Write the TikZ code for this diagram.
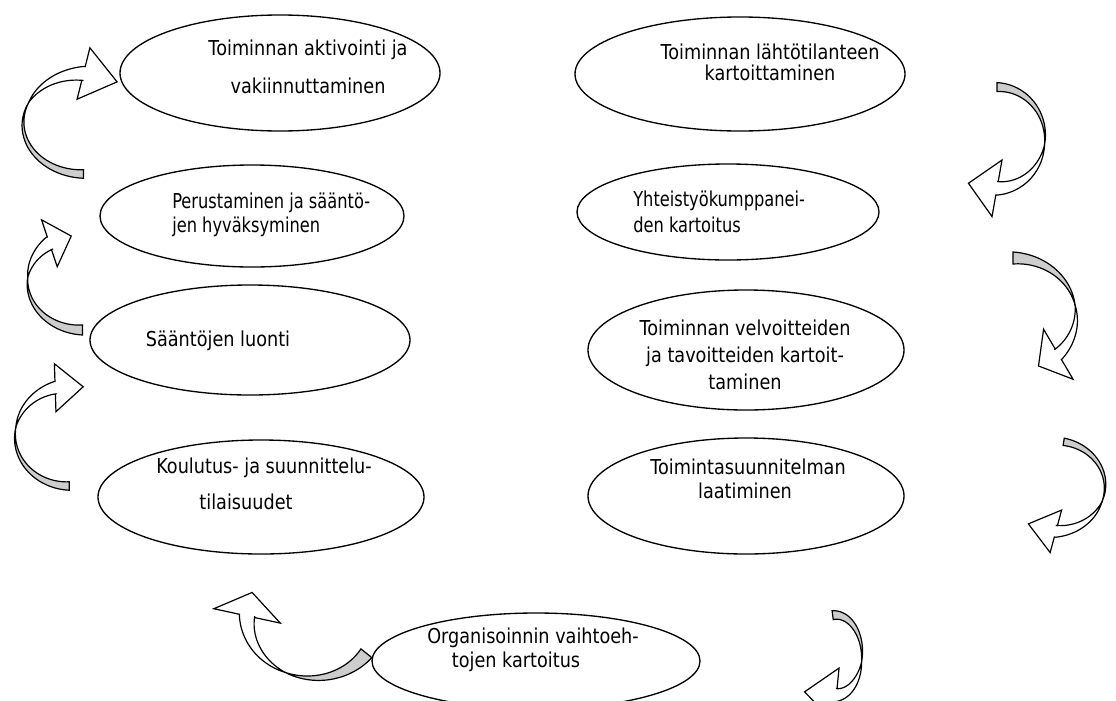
\documentclass[tikz,border=0pt]{standalone}
\usepackage{fontspec}
\usepackage{graphicx}
\setmainfont{DejaVu Sans}[FakeStretch=0.86]
\usetikzlibrary{shapes.geometric}
\definecolor{bandgray}{RGB}{205,205,205}
\pgfkeys{/ca/.is family,
 /ca/rx/.store in=\CArx, /ca/ry/.store in=\CAry,
 /ca/tt/.store in=\CAtt, /ca/tc/.store in=\CAtc, /ca/th/.store in=\CAth,
 /ca/g/.store in=\CAg, /ca/k/.store in=\CAk,
 /ca/hw/.store in=\CAhw, /ca/hl/.store in=\CAhl, /ca/tau/.store in=\CAtau}
\newcommand\curvedarrow[2]{%
 \begin{scope}[shift={(#1)}]
 \pgfkeys{/ca/.cd,#2}%
 \pgfmathsetmacro\CAmx{\CArx*cos(\CAth)}%
 \pgfmathsetmacro\CAmy{\CAry*sin(\CAth)}%
 \pgfmathsetmacro\CAtx{-\CArx*sin(\CAth)}%
 \pgfmathsetmacro\CAty{\CAry*cos(\CAth)}%
 \pgfmathsetmacro\CAtn{veclen(\CAtx,\CAty)}%
 \pgfmathsetmacro\CAdx{((\CAtx)*cos(\CAtau)-(\CAty)*sin(\CAtau))/\CAtn}%
 \pgfmathsetmacro\CAdy{((\CAtx)*sin(\CAtau)+(\CAty)*cos(\CAtau))/\CAtn}%
 \filldraw[arrowline, fill=bandgray]
   plot[variable=\t, domain=\CAtt:\CAtc, samples=30]
     ({cax(\t,-\CAg*(\CAtc-\t)/(\CAtc-\CAtt))},{cay(\t,-\CAg*(\CAtc-\t)/(\CAtc-\CAtt))})
   -- plot[variable=\t, domain=\CAtc:\CAtt, samples=30]
     ({cax(\t,\CAg*(\CAtc-\t)/(\CAtc-\CAtt))},{cay(\t,\CAg*(\CAtc-\t)/(\CAtc-\CAtt))})
   -- cycle;
 \filldraw[arrowline, fill=white]
   plot[variable=\t, domain=\CAtc:\CAth, samples=30]
     ({cax(\t,\CAk*(\t-\CAtc)/(\CAth-\CAtc))},{cay(\t,\CAk*(\t-\CAtc)/(\CAth-\CAtc))})
   -- ({\CAmx+\CAk*\CAdy},{\CAmy-\CAk*\CAdx})
   -- ({\CAmx+\CAhw*\CAdy},{\CAmy-\CAhw*\CAdx})
   -- ({\CAmx+\CAhl*\CAdx},{\CAmy+\CAhl*\CAdy})
   -- ({\CAmx-\CAhw*\CAdy},{\CAmy+\CAhw*\CAdx})
   -- ({\CAmx-\CAk*\CAdy},{\CAmy+\CAk*\CAdx})
   -- plot[variable=\t, domain=\CAth:\CAtc, samples=30]
     ({cax(\t,-\CAk*(\t-\CAtc)/(\CAth-\CAtc))},{cay(\t,-\CAk*(\t-\CAtc)/(\CAth-\CAtc))})
   -- cycle;
 \end{scope}}
\newcommand\narrowtext[1]{\scalebox{0.92}[1]{#1}}
\begin{document}
\begin{tikzpicture}[x=0.75pt,y=-0.75pt,
  declare function={
    caN(\t)=veclen(\CAry*cos(\t),\CArx*sin(\t));
    cax(\t,\h)=\CArx*cos(\t)+(\h)*\CAry*cos(\t)/caN(\t);
    cay(\t,\h)=\CAry*sin(\t)+(\h)*\CArx*sin(\t)/caN(\t);
  },
  arrowline/.style={draw=black, line width=0.9pt, line join=miter},
  ell/.style={draw=black, line width=1pt, ellipse, inner sep=0pt, fill=white},
  txt/.style={inner sep=0pt, font=\fontsize{15.4}{18.5}\selectfont, anchor=base}]
\useasboundingbox (0,0) rectangle (1116,700);

% ellipses
\node[ell, minimum width={320*0.75pt}, minimum height={116*0.75pt}] (e1) at (280,73) {};
\node[ell, minimum width={330*0.75pt}, minimum height={114*0.75pt}] (e2) at (740,74) {};
\node[ell, minimum width={304*0.75pt}, minimum height={102*0.75pt}] (e3) at (252,216) {};
\node[ell, minimum width={302*0.75pt}, minimum height={96*0.75pt}] (e4) at (728,212) {};
\node[ell, minimum width={320*0.75pt}, minimum height={110*0.75pt}] (e5) at (250,340) {};
\node[ell, minimum width={316*0.75pt}, minimum height={120*0.75pt}] (e6) at (746,350) {};
\node[ell, minimum width={326*0.75pt}, minimum height={114*0.75pt}] (e7) at (261,497) {};
\node[ell, minimum width={316*0.75pt}, minimum height={116*0.75pt}] (e8) at (746,496) {};
\node[ell, minimum width={328*0.75pt}, minimum height={96*0.75pt}] (e9) at (536,661) {};

% texts
\node[txt] (t1a) at (308,55) {Toiminnan aktivointi ja};
\node[txt] (t1b) at (308,93) {vakiinnuttaminen};
\node[txt] (t2a) at (770,59) {Toiminnan lähtötilanteen};
\node[txt] (t2b) at (770,80) {kartoittaminen};
\node[txt, anchor=base west] (t3a) at (172,208) {\narrowtext{Perustaminen ja sääntö-}};
\node[txt, anchor=base west] (t3b) at (172,232) {\narrowtext{jen hyväksyminen}};
\node[txt, anchor=base west] (t4a) at (633,206) {\narrowtext{Yhteistyökumppanei-}};
\node[txt, anchor=base west] (t4b) at (633,232) {\narrowtext{den kartoitus}};
\node[txt] (t5) at (218,346) {Sääntöjen luonti};
\node[txt] (t6a) at (745,335) {Toiminnan velvoitteiden};
\node[txt] (t6b) at (745,362) {ja tavoitteiden kartoit-};
\node[txt] (t6c) at (745,389) {taminen};
\node[txt] (t7a) at (264,473) {Koulutus- ja suunnittelu-};
\node[txt] (t7b) at (246,509) {tilaisuudet};
\node[txt] (t8a) at (748,474) {Toimintasuunnitelman};
\node[txt] (t8b) at (745,498) {laatiminen};
\node[txt] (t9a) at (533,643) {Organisoinnin vaihtoeh-};
\node[txt] (t9b) at (516,667) {tojen kartoitus};

% curved block arrows
\coordinate (a1) at (83.5,123.75);
\coordinate (a2) at (82.5,281.8);
\coordinate (a3) at (69.2,436);
\coordinate (a4) at (313,618);
\coordinate (a5) at (997,137.7);
\coordinate (a6) at (1013,314.8);
\coordinate (a7) at (1055,486.2);
\coordinate (a8) at (835,655);
\curvedarrow{a1}{rx=60.5,ry=50.25,tt=90,tc=205,th=270,g=4.25,k=7,hw=26.5,hl=34.6,tau=14}
\curvedarrow{a2}{rx=55,ry=48.2,tt=90,tc=185,th=233,g=5,k=6.7,hw=24.7,hl=23,tau=15}
\curvedarrow{a3}{rx=54.2,ry=50,tt=90,tc=190,th=255,g=4.2,k=6.2,hw=24,hl=28,tau=12}
\curvedarrow{a4}{rx=66,ry=60,tt=36,tc=115,th=182,g=7,k=7.7,hw=34,hl=24,tau=10}
\curvedarrow{a5}{rx=48,ry=50.6,tt=270,tc=368,th=450,g=4.5,k=6.8,hw=28.7,hl=29,tau=10}
\curvedarrow{a6}{rx=63,ry=56.8,tt=270,tc=350,th=404,g=6,k=6,hw=29,hl=23,tau=12.5}
\curvedarrow{a7}{rx=50,ry=45.1,tt=280,tc=380,th=449,g=3.7,k=5.9,hw=22,hl=28.5,tau=16}
\curvedarrow{a8}{rx=27,ry=40,tt=265,tc=370,th=447,g=4.5,k=6.5,hw=27,hl=32,tau=10}
\end{tikzpicture}
\end{document}
